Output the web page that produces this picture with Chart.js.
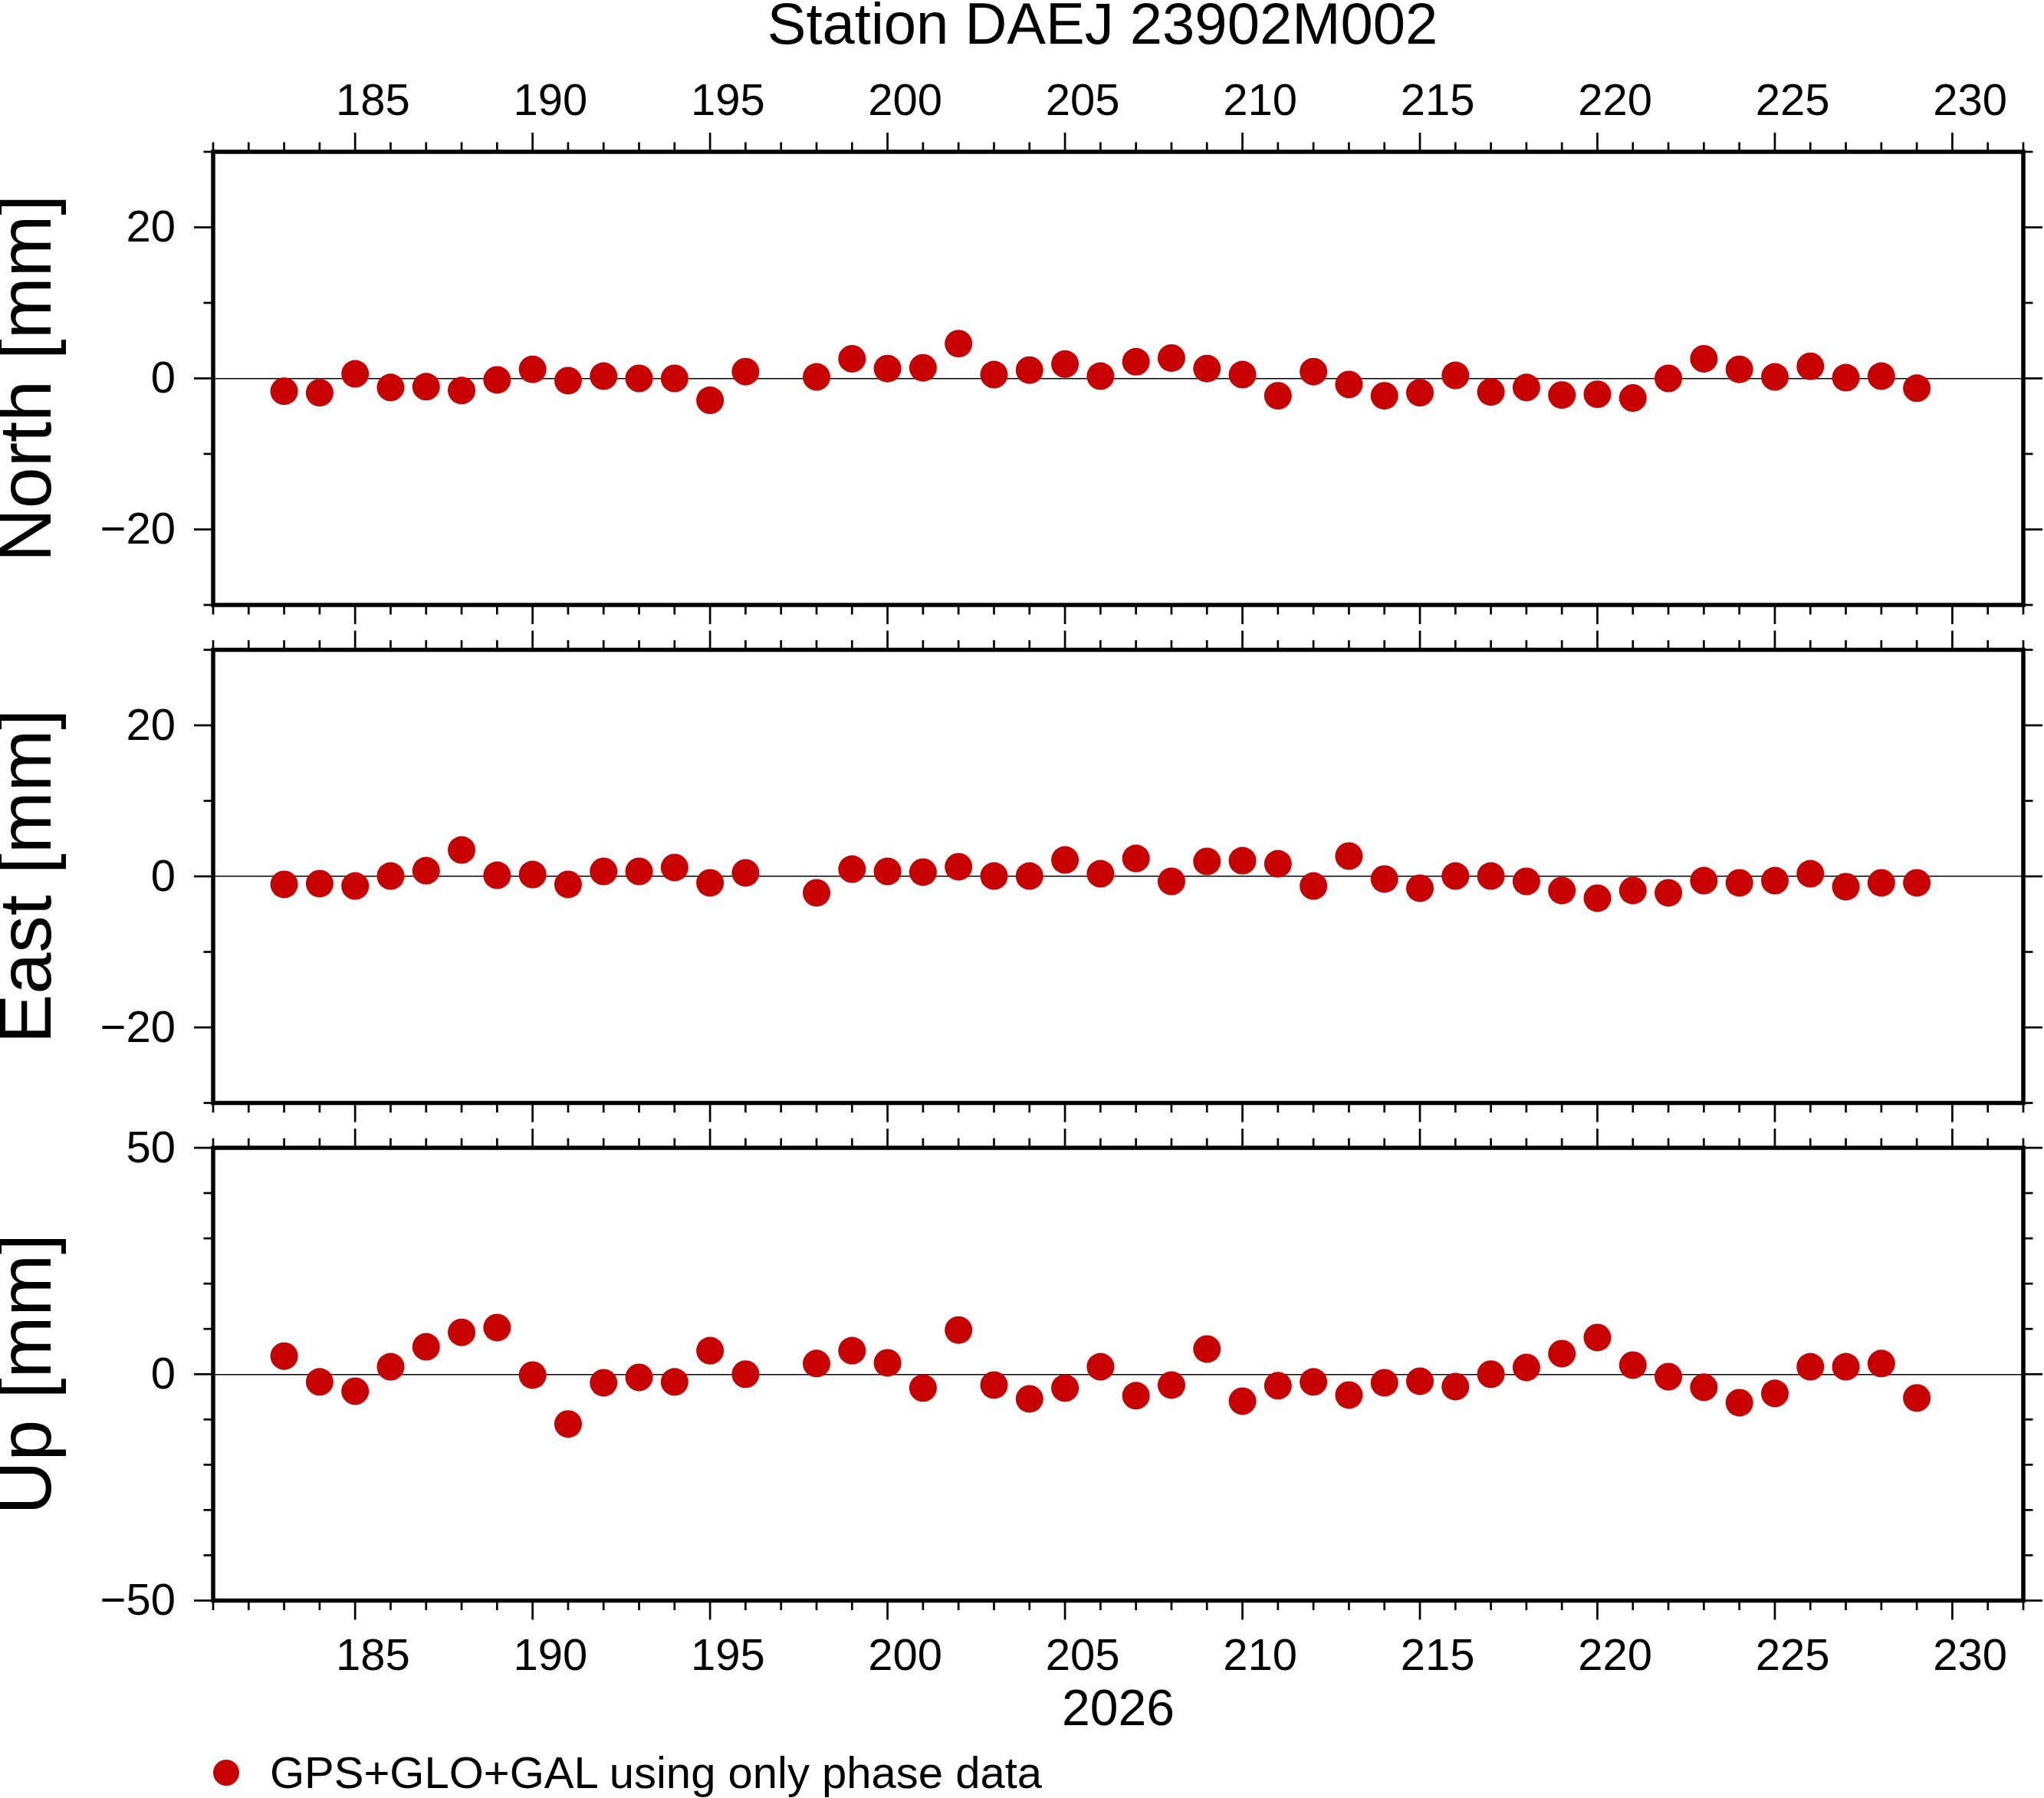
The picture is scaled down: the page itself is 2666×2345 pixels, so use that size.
<!DOCTYPE html>
<html>
<head>
<meta charset="utf-8">
<title>Station DAEJ 23902M002</title>
<script src="https://cdn.jsdelivr.net/npm/chart.js@4.4.1/dist/chart.umd.min.js"></script>
<style>
  html, body { margin: 0; padding: 0; background: #ffffff; }
  body { width: 2666px; height: 2345px; position: relative; overflow: hidden;
         font-family: 'Liberation Sans', Arial, Helvetica, sans-serif; color: #000; }
  canvas.panel { position: absolute; left: 0; top: 0; }
  #title { position: absolute; top: -7.5px; left: 1438px; transform: translateX(-50%);
           font-size: 76px; line-height: 76px; white-space: nowrap; }
  #legendDot { position: absolute; left: 277.5px; top: 2295px; width: 34px; height: 34px;
               border-radius: 50%; background: rgb(200,0,0); }
  #legendText { position: absolute; left: 352px; top: 2282.6px; font-size: 58px;
                line-height: 58px; white-space: nowrap; }
</style>
</head>
<body>
<canvas id="cNorth" class="panel" width="2666" height="2345"></canvas>
<canvas id="cEast" class="panel" width="2666" height="2345"></canvas>
<canvas id="cUp" class="panel" width="2666" height="2345"></canvas>
<div id="title"></div>
<div id="legendDot"></div>
<div id="legendText"></div>
<script>
// ---------------- data ----------------
const titleText = 'Station DAEJ 23902M002';
const seriesLabel = 'GPS+GLO+GAL using only phase data';
const yearLabel = '2026';

const days = [183,184,185,186,187,188,189,190,191,192,193,194,195,196,
              198,199,200,201,202,203,204,205,206,207,208,209,210,211,212,213,
              214,215,216,217,218,219,220,221,222,223,224,225,226,227,228,229];

const north = [-1.7,-1.9,0.6,-1.2,-1.1,-1.6,-0.2,1.2,-0.3,0.3,0.0,0.0,-2.9,0.9,
               0.2,2.6,1.3,1.4,4.6,0.5,1.1,1.9,0.3,2.2,2.7,1.3,0.5,-2.3,0.9,-0.8,
               -2.3,-1.9,0.4,-1.8,-1.2,-2.2,-2.1,-2.6,0.0,2.6,1.2,0.2,1.6,0.1,0.3,-1.3];

const east = [-1.06,-0.96,-1.27,0.05,0.76,3.5,0.15,0.25,-1.06,0.66,0.66,1.17,-0.86,0.46,
              -2.18,0.96,0.66,0.56,1.27,0.05,0.05,2.18,0.35,2.38,-0.66,1.98,2.08,1.67,-1.27,2.69,
              -0.35,-1.57,0.05,0.05,-0.66,-1.87,-2.89,-1.87,-2.18,-0.56,-0.86,-0.56,0.35,-1.37,-0.86,-0.86];

const up = [4.0,-1.7,-3.75,1.65,6.05,9.25,10.3,-0.2,-11.0,-1.9,-0.7,-1.7,5.2,0.0,
            2.35,5.2,2.5,-3.05,9.75,-2.4,-5.45,-3.05,1.65,-4.75,-2.4,5.55,-5.95,-2.55,-1.7,-4.6,
            -1.9,-1.55,-2.75,0.0,1.5,4.55,8.1,2.0,-0.55,-2.9,-6.3,-4.25,1.65,1.65,2.35,-5.25];

// ---------------- ticks ----------------
const xTickValues = [185,190,195,200,205,210,215,220,225,230];
const xTickLabels = ['185','190','195','200','205','210','215','220','225','230'];
const xMinorTicks = [181,182,183,184,186,187,188,189,191,192,193,194,196,197,198,199,
                     201,202,203,204,206,207,208,209,211,212,213,214,216,217,218,219,
                     221,222,223,224,226,227,228,229,231,232];

const neTickValues = [-20,0,20];
const neTickLabels = ['\u221220','0','20'];
const neMinorTicks = [-30,-10,10,30];

const upTickValues = [-50,0,50];
const upTickLabels = ['\u221250','0','50'];
const upMinorTicks = [-40,-30,-20,-10,10,20,30,40];

// ---------------- styling ----------------
const FONT = "'Liberation Sans', Arial, Helvetica, sans-serif";
const RED = 'rgb(200,0,0)';

document.getElementById('title').textContent = titleText;
document.getElementById('legendText').textContent = seriesLabel;

// Frame + GMT-style outward ticks, positioned through the chart's scales
const frameTicks = {
  id: 'frameTicks',
  afterDraw(chart, args, o) {
    const { ctx, chartArea: a } = chart;
    const xs = chart.scales.x, ys = chart.scales.y;
    ctx.save();
    ctx.strokeStyle = '#000';
    ctx.lineCap = 'butt';
    ctx.lineWidth = o.tickWidth;
    const seg = (x1, y1, x2, y2) => { ctx.beginPath(); ctx.moveTo(x1, y1); ctx.lineTo(x2, y2); ctx.stroke(); };
    const xT = (vals, len) => vals.forEach(v => {
      const p = xs.getPixelForValue(v);
      seg(p, a.top, p, a.top - len);
      seg(p, a.bottom, p, a.bottom + len);
    });
    const yT = (vals, len) => vals.forEach(v => {
      const p = ys.getPixelForValue(v);
      seg(a.left, p, a.left - len, p);
      seg(a.right, p, a.right + len, p);
    });
    xT(o.xMajor, o.majorLen);
    xT(o.xMinor, o.minorLen);
    yT(o.yMajor, o.majorLen);
    yT(o.yMinor, o.minorLen);
    ctx.lineWidth = o.frameWidth;
    ctx.lineJoin = 'miter';
    ctx.strokeRect(a.left, a.top, a.right - a.left, a.bottom - a.top);
    ctx.restore();
  }
};

function makePanel(id, values, yMin, yMax, yTicks, yLabels, yMinor, yTitle, pad, xl) {
  const scales = {
    x: { type: 'linear', min: 181, max: 232, display: false },
    y: {
      type: 'linear', position: 'left', min: yMin, max: yMax,
      afterFit: s => { s.width = 278; },
      afterBuildTicks: s => { s.ticks = yTicks.map(v => ({ value: v })); },
      ticks: { padding: 49, labelOffset: 2.5, color: '#000', font: { family: FONT, size: 58, lineHeight: 1 },
               callback: (v, i) => yLabels[i] },
      grid: { drawTicks: false, lineWidth: 1.5,
              color: c => (c.tick && c.tick.value === 0) ? '#000' : 'rgba(0,0,0,0)' },
      border: { display: false },
      title: { display: true, text: yTitle, color: '#000',
               font: { family: FONT, size: 97, lineHeight: 0.8 },
               padding: { top: 0.6, bottom: 0 } }
    }
  };
  if (xl) {
    scales.xl = {
      type: 'linear', position: xl.position, min: 180.5, max: 231.5,
      afterFit: s => { s.height = xl.height; },
      afterBuildTicks: s => { s.ticks = xTickValues.map(v => ({ value: v })); },
      ticks: { padding: xl.padding, autoSkip: false, maxRotation: 0, minRotation: 0, color: '#000',
               font: { family: FONT, size: 58, lineHeight: 1 },
               callback: (v, i) => xTickLabels[i] },
      grid: { display: false, drawTicks: false },
      border: { display: false },
      title: xl.title ? { display: true, text: xl.title, color: '#000',
                          font: { family: FONT, size: 66, lineHeight: 1 },
                          padding: { top: 0, bottom: 2.5 } } : { display: false }
    };
  }
  return new Chart(document.getElementById(id), {
    type: 'scatter',
    data: {
      datasets: [{
        label: seriesLabel,
        data: days.map((d, i) => ({ x: d, y: values[i] })),
        xAxisID: 'x', yAxisID: 'y',
        pointRadius: 18, pointHoverRadius: 18,
        backgroundColor: RED, borderWidth: 0, clip: false
      }]
    },
    options: {
      responsive: false, animation: false, devicePixelRatio: 1, events: [],
      layout: { padding: pad },
      plugins: {
        legend: { display: false }, tooltip: { enabled: false }, title: { display: false },
        frameTicks: { xMajor: xTickValues, xMinor: xMinorTicks, yMajor: yTicks, yMinor: yMinor,
                      majorLen: 25, minorLen: 12.5, tickWidth: 2.7, frameWidth: 5.5 }
      },
      scales
    },
    plugins: [frameTicks]
  });
}

makePanel('cNorth', north, -30, 30, neTickValues, neTickLabels, neMinorTicks, 'North [mm]',
          { left: 0, right: 27, top: 0, bottom: 1556 },
          { position: 'top', height: 198, padding: 35 });
makePanel('cEast', east, -30, 30, neTickValues, neTickLabels, neMinorTicks, 'East [mm]',
          { left: 0, right: 27, top: 847.5, bottom: 906.5 }, null);
makePanel('cUp', up, -50, 50, upTickValues, upTickLabels, upMinorTicks, 'Up [mm]',
          { left: 0, right: 27, top: 1497, bottom: 77.5 },
          { position: 'bottom', height: 180, padding: 45, title: yearLabel });
</script>
</body>
</html>
